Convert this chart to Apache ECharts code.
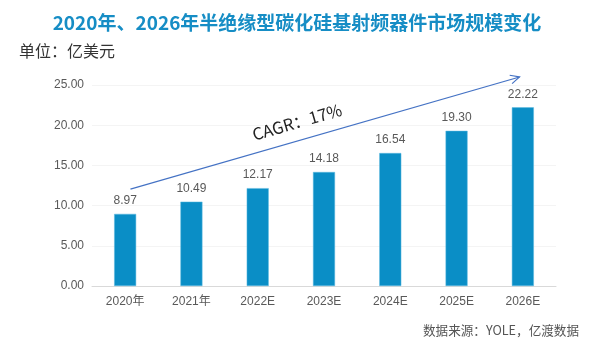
<!DOCTYPE html>
<html><head><meta charset="utf-8">
<script src="https://cdn.jsdelivr.net/npm/echarts@6/dist/echarts.min.js"></script>
<style>html,body{margin:0;padding:0;background:#fff}#c{width:606px;height:347px}</style>
</head><body><div id="c"></div>
<script>
const categories = ['2020年','2021年','2022E','2023E','2024E','2025E','2026E'];
const values = [8.97, 10.49, 12.17, 14.18, 16.54, 19.30, 22.22];
const yTicks = [0, 5, 25];
const cagrStart = [0.08, 12.05];
const cagrEnd = [5.95, 26.0];

const chart = echarts.init(document.getElementById('c'));
chart.setOption({
  animation: false,
  backgroundColor: '#fff',
  title: [
    {text: '2020年、2026年半绝缘型碳化硅基射频器件市场规模变化', left: 292, top: 8, textAlign: 'center',
     textStyle: {color: '#168DC5', fontSize: 19, fontWeight: 'bold', fontFamily: 'Noto Sans CJK SC'}},
    {text: '单位：亿美元', left: 14, top: 38,
     textStyle: {color: '#333', fontSize: 16, fontWeight: 'normal', fontFamily: 'Noto Sans CJK SC'}},
    {text: '数据来源：YOLE，亿渡数据', right: 22, top: 319,
     textStyle: {color: '#555', fontSize: 12.6, fontWeight: 'normal', fontFamily: 'Noto Sans CJK SC'}}
  ],
  grid: {left: 92, right: 50, top: 85, bottom: 61},
  xAxis: {type: 'category', data: categories,
    axisLine: {lineStyle: {color: '#d9d9d9'}}, axisTick: {show: false},
    axisLabel: {color: '#595959', fontSize: 12, margin: 10, fontFamily: 'Liberation Sans, Noto Sans CJK SC'}},
  yAxis: {type: 'value', min: yTicks[0], max: yTicks[2], interval: yTicks[1],
    axisLine: {show: false}, axisTick: {show: false},
    axisLabel: {color: '#595959', fontSize: 12, margin: 8, formatter: v => v.toFixed(2), fontFamily: 'Liberation Sans'},
    splitLine: {lineStyle: {color: '#f4f4f4'}}},
  series: [{
    type: 'bar', data: values, barWidth: 22,
    itemStyle: {color: '#0A8EC6', borderColor: '#5fbbe0', borderWidth: 0.5},
    label: {show: true, position: 'top', distance: 7, color: '#595959', fontSize: 12,
      formatter: p => p.value.toFixed(2), fontFamily: 'Liberation Sans'}
  }]
});
function toPx(pt) {
  const i = Math.floor(pt[0]), f = pt[0] - i;
  const a = chart.convertToPixel({seriesIndex: 0}, [i, pt[1]]);
  const b = chart.convertToPixel({seriesIndex: 0}, [i + 1, pt[1]]);
  return [a[0] + (b[0] - a[0]) * f, a[1]];
}
const p1 = toPx(cagrStart);
const p2 = toPx(cagrEnd);
const ang = Math.atan2(p1[1] - p2[1], p2[0] - p1[0]);
const hl = 10, ha = 0.45;
const back = Math.atan2(p1[1] - p2[1], p1[0] - p2[0]);
const h1 = [p2[0] + hl * Math.cos(back + ha), p2[1] + hl * Math.sin(back + ha)];
const h2 = [p2[0] + hl * Math.cos(back - ha), p2[1] + hl * Math.sin(back - ha)];
chart.setOption({graphic: [
  {type: 'line', shape: {x1: p1[0], y1: p1[1], x2: p2[0], y2: p2[1]}, style: {stroke: '#4472C4', lineWidth: 1.2}},
  {type: 'polyline', shape: {points: [h1, p2, h2]}, style: {stroke: '#4472C4', lineWidth: 1.2, fill: null}},
  {type: 'text', x: 297, y: 122, rotation: ang, originX: 0, originY: 0,
   style: {text: 'CAGR：17%', fill: '#222', fontSize: 16.5, fontFamily: 'Noto Sans CJK SC', align: 'center', verticalAlign: 'middle'}}
]});
</script></body></html>
